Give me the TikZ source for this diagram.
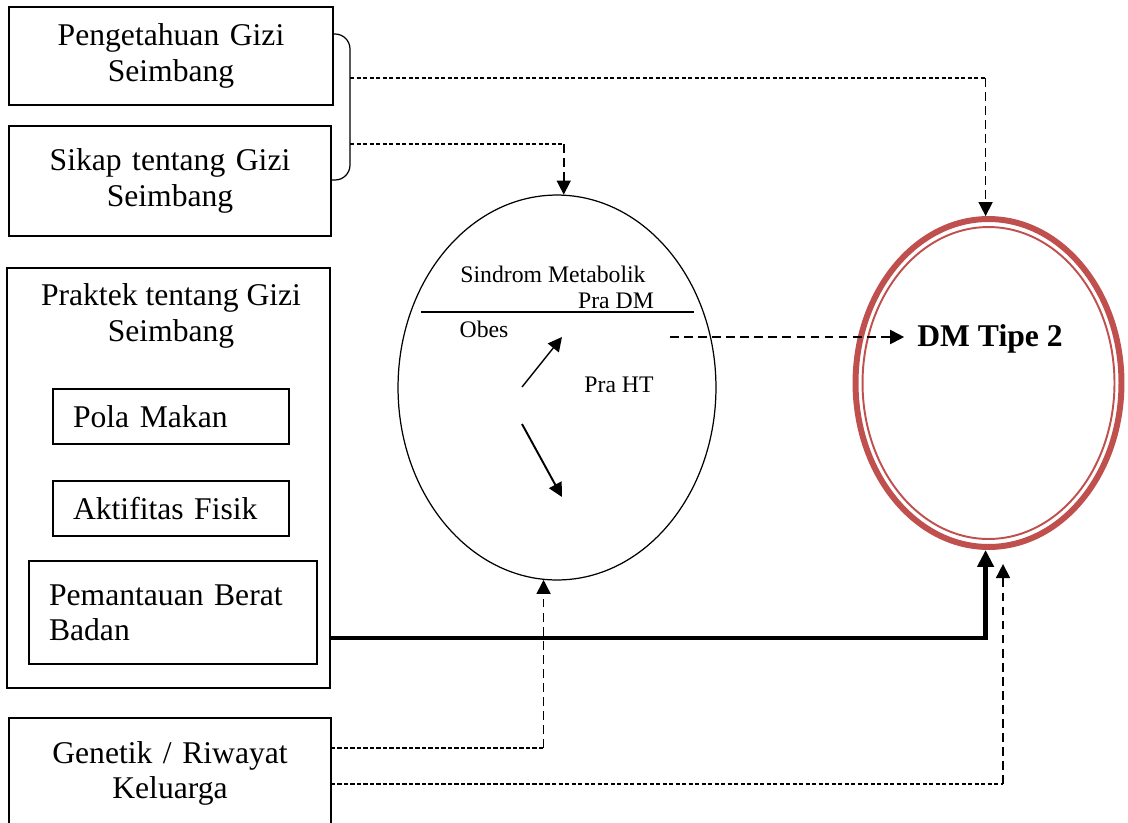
\documentclass[tikz,border=0pt]{standalone}
\usepackage{fontspec}
\setmainfont{Liberation Serif}
\usetikzlibrary{arrows.meta, shapes.geometric, calc}
\definecolor{dmred}{RGB}{192,80,77}
\tikzset{big font/.style={font=\fontsize{18}{20}\selectfont}}
\tikzset{small font/.style={font=\fontsize{13.5}{16}\selectfont}}
\tikzset{every gizi node/.style={draw,line width=0.7pt,inner sep=0pt,outer sep=0pt,align=center,big font}}
\tikzset{every sub node/.style={draw,line width=0.7pt,inner xsep=0.4cm,inner ysep=0pt,outer sep=0pt,align=left,big font}}
\tikzset{finedash/.style={line width=0.6pt,dash pattern=on 2.4pt off 1.3pt}}
\tikzset{coarsedash/.style={line width=0.9pt,dash pattern=on 5pt off 3pt}}
\tikzset{headarrow/.style={-{Triangle[length=0.28cm,width=0.28cm]}}}

\begin{document}
\begin{tikzpicture}[x=0.02cm, y=-0.02cm]
    \clip (0,0) rectangle (1128,822);
    %\draw[help lines] (0,0) grid[step=50] (1128,822);

    % left column
    \node[every gizi node, text width=6.48cm, minimum height=1.96cm] at (171, 56) (PG){Pengetahuan Gizi\\Seimbang};
    \node[every gizi node, text width=6.44cm, minimum height=2.2cm] at (170, 181) (SK){Sikap tentang Gizi\\Seimbang};
    \node[every gizi node, minimum width=6.46cm, minimum height=8.4cm] at (168.5, 478) (PR){};
    \node[big font, align=center] at (171, 316) (PRt){Praktek tentang Gizi\\Seimbang};
    \node[every sub node, text width=3.92cm, minimum height=1.1cm] at (171, 416.5) (PM){Pola Makan};
    \node[every sub node, text width=3.92cm, minimum height=1.1cm] at (171, 508.5) (AF){Aktifitas Fisik};
    \node[every sub node, text width=4.96cm, minimum height=2.06cm] at (173, 612.5) (PB){Pemantauan Berat\\Badan};
    \node[every gizi node, text width=6.44cm, minimum height=2.2cm] at (170, 773) (GR){Genetik / Riwayat\\Keluarga};

    % bracket
    \draw[line width=0.7pt, rounded corners=0.3cm] (PG.east |- 0,34) -- (350,34) -- (350,180) -- (SK.east |- 0,180);
    \coordinate (b1) at (350, 78);
    \coordinate (b2) at (350, 144);

    % sindrom metabolik
    \node[ellipse, draw, line width=0.7pt, minimum width=6.36cm, minimum height=7.7cm, inner sep=0pt] at (557, 387.5) (SM){};
    \draw[line width=0.7pt] (421, 312) -- (694, 312);
    \node[small font] at (553, 274) (SMt){Sindrom Metabolik};
    \node[small font] at (616, 301) (PD){Pra DM};
    \node[small font] at (484, 329) (OB){Obes};
    \node[small font] at (619, 385) (PH){Pra HT};
    \coordinate (a0) at (522, 387);
    \coordinate (a1) at (562, 337);
    \coordinate (a2) at (522, 424);
    \coordinate (a3) at (562, 497);
    \draw[headarrow, line width=0.8pt] (a0) -- (a1);
    \draw[headarrow, line width=1.1pt] (a2) -- (a3);

    % DM tipe 2
    \node[ellipse, draw=dmred, line width=3.4pt, minimum width=5.32cm, minimum height=6.56cm, inner sep=0pt] at (988.5, 383) (DM){};
    \draw[dmred, line width=1.1pt] (DM.center) ellipse [x radius=2.52cm, y radius=3.12cm];
    \node[font=\fontsize{18}{20}\selectfont\bfseries] at (990, 339) (DMt){DM Tipe 2};

    % dashed connectors
    \draw[finedash] (b1) -- (b1 -| DM.91);
    \draw[coarsedash, headarrow] (b1 -| DM.91) -- (DM.91);
    \draw[finedash] (b2) -- (b2 -| SM.88);
    \draw[coarsedash, headarrow] (b2 -| SM.88) -- (SM.88);

    \coordinate (o1) at (670, 337);
    \draw[coarsedash, line width=1.1pt, headarrow, shorten >=0.14cm] (o1) -- (o1 -| DMt.west);

    \coordinate (g1) at (GR.east |- 0,748);
    \coordinate (g2) at (GR.east |- 0,784);
    \draw[finedash] (g1) -- (g1 -| SM.266);
    \draw[coarsedash, headarrow] (g1 -| SM.266) -- (SM.266);
    \draw[finedash] (g2) -- (g2 -| DM.275);
    \draw[coarsedash, headarrow, shorten >=0.3cm] (g2 -| DM.275) -- (DM.275);

    % thick line
    \coordinate (t0) at (PR.east |- 0,638);
    \draw[line width=2.8pt, -{Triangle[length=0.34cm,width=0.32cm]}] (t0) -| (DM.269);

\end{tikzpicture}
\end{document}
